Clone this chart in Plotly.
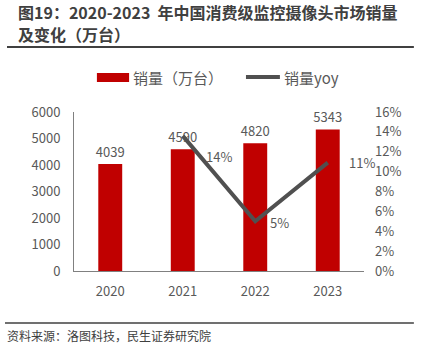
import plotly.graph_objects as go

years = ["2020", "2021", "2022", "2023"]
sales = [4039, 4590, 4820, 5343]
yoy_years = ["2021", "2022", "2023"]
yoy = [0.136, 0.050, 0.109]
yoy_labels = ["14%", "5%", "11%"]

left_ticks = [0, 1000, 2000, 3000, 4000, 5000, 6000]
right_ticks = [0, 0.02, 0.04, 0.06, 0.08, 0.10, 0.12, 0.14, 0.16]
right_tick_text = ["0%", "2%", "4%", "6%", "8%", "10%", "12%", "14%", "16%"]

FONT = "Noto Sans CJK SC"
GRAY = "#595959"
RED = "#C00000"
LINE = "#505050"

fig = go.Figure()
fig.add_trace(go.Bar(
    x=years, y=sales, name="销量（万台）",
    marker=dict(color=RED, line=dict(width=0)),
    width=0.33,
    text=[str(v) for v in sales], textposition="outside", constraintext="none",
    textfont=dict(family=FONT, size=13, color=GRAY),
    cliponaxis=False,
))
fig.add_trace(go.Scatter(
    x=yoy_years, y=yoy, name="销量yoy", yaxis="y2",
    mode="lines", line=dict(color=LINE, width=4),
))

fig.update_layout(
    width=427, height=344,
    margin=dict(l=74, r=63, t=112, b=73),
    paper_bgcolor="white", plot_bgcolor="white",
    showlegend=False,
    bargap=0.5,
    xaxis=dict(type="category", range=[-0.5, 3.5], showline=True, linecolor="#808080",
               linewidth=1, ticks="", tickfont=dict(family=FONT, size=13, color=GRAY),
               ticklabelstandoff=8),
    yaxis=dict(range=[0, 6000], tickvals=left_ticks, showgrid=False, zeroline=False,
               showline=True, linecolor="#808080", linewidth=1, ticks="",
               tickfont=dict(family=FONT, size=13, color=GRAY), ticklabelstandoff=10),
    yaxis2=dict(range=[0, 0.16], overlaying="y", side="right", tickvals=right_ticks,
                ticktext=right_tick_text, showgrid=False, zeroline=False, showline=False,
                ticks="", tickfont=dict(family=FONT, size=13, color=GRAY),
                ticklabelstandoff=10),
    font=dict(family=FONT),
)

# yoy data labels to the right of each point
shifts = [(21, -21), (13, -1), (19, 0)]
for xv, yv, t, (dx, dy) in zip(yoy_years, yoy, yoy_labels, shifts):
    fig.add_annotation(xref="x", yref="y2", x=years.index(xv), y=yv, text=t,
                       showarrow=False, xanchor="left", yanchor="middle",
                       xshift=dx, yshift=dy,
                       font=dict(family=FONT, size=13, color=GRAY))

# custom legend
fig.add_shape(type="rect", xref="paper", yref="paper", x0=0.079, x1=0.190, y0=1.189, y1=1.245,
              fillcolor=RED, line=dict(width=0))
fig.add_annotation(xref="paper", yref="paper", x=0.197, y=1.220, xanchor="left", yanchor="middle",
                   text="销量（万台）", showarrow=False,
                   font=dict(family=FONT, size=15, color=GRAY))
fig.add_shape(type="line", xref="paper", yref="paper", x0=0.593, x1=0.710, y0=1.220, y1=1.220,
              line=dict(color=LINE, width=4))
fig.add_annotation(xref="paper", yref="paper", x=0.716, y=1.220, xanchor="left", yanchor="middle",
                   text="销量yoy", showarrow=False,
                   font=dict(family=FONT, size=15, color=GRAY))

# Title (two separate lines)
fig.add_annotation(xref="paper", yref="paper", x=-0.2, y=(271 - 12) / 159, xanchor="left",
                   yanchor="middle", text="<b>图19：2020-2023  年中国消费级监控摄像头市场销量</b>",
                   showarrow=False, font=dict(family=FONT, size=16, color="#404040"))
fig.add_annotation(xref="paper", yref="paper", x=-0.2, y=(271 - 34) / 159, xanchor="left",
                   yanchor="middle", text="<b>及变化（万台）</b>",
                   showarrow=False, font=dict(family=FONT, size=16, color="#404040"))

# separator lines
fig.add_shape(type="line", xref="paper", yref="paper", x0=-0.231, x1=1.172, y0=1.409, y1=1.409,
              line=dict(color="#404040", width=2))
fig.add_shape(type="line", xref="paper", yref="paper", x0=-0.238, x1=1.172, y0=-0.327, y1=-0.327,
              line=dict(color="#404040", width=1.5))
fig.add_annotation(xref="paper", yref="paper", x=-0.238, y=-0.34, xanchor="left", yanchor="top",
                   text="资料来源：洛图科技，民生证券研究院", showarrow=False,
                   font=dict(family=FONT, size=12, color="#404040"))

fig.write_html("out.html")
